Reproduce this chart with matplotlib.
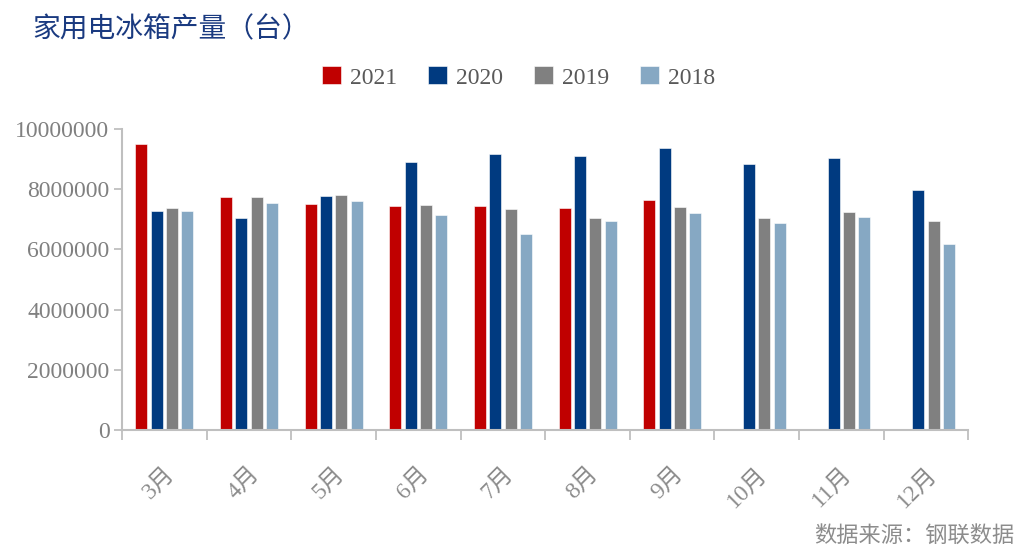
import numpy as np
import matplotlib.pyplot as plt

plt.rcParams['font.family'] = ['Liberation Serif', 'Noto Sans CJK SC', 'DejaVu Sans']

# 数据（台）
months = ['3月', '4月', '5月', '6月', '7月', '8月', '9月', '10月', '11月', '12月']
y2021 = [9490000, 7750000, 7500000, 7430000, 7430000, 7370000, 7640000, np.nan, np.nan, np.nan]
y2020 = [7290000, 7030000, 7770000, 8890000, 9170000, 9090000, 9370000, 8830000, 9030000, 7980000]
y2019 = [7360000, 7730000, 7800000, 7480000, 7340000, 7030000, 7400000, 7040000, 7240000, 6930000]
y2018 = [7260000, 7530000, 7590000, 7130000, 6510000, 6940000, 7220000, 6860000, 7090000, 6190000]

series = [('2021', y2021, '#C00000'), ('2020', y2020, '#003A80'),
          ('2019', y2019, '#808080'), ('2018', y2018, '#86A8C3')]

fig = plt.figure(figsize=(10.21, 5.53), dpi=100)
ax = fig.add_axes([0.1195, 0.222, 0.829, 0.545])

x = np.arange(len(months))
pitch = 0.181
width = 0.142
for i, (name, vals, col) in enumerate(series):
    ax.bar(x + (i - 1.5) * pitch, vals, width, color=col, label=name,
           edgecolor='white', linewidth=0.4)

ax.set_xlim(-0.5, len(months) - 0.5)
ax.set_ylim(0, 10000000)
ax.set_yticks(np.arange(0, 10000001, 2000000))
ax.set_yticklabels([str(v) for v in range(0, 10000001, 2000000)])

ax.set_xticks(np.arange(-0.5, len(months)), minor=False)
ax.set_xticklabels([])
ax.set_xticks(x, minor=True)
ax.set_xticklabels(months, minor=True, rotation=45, ha='right', va='top',
                   rotation_mode='anchor', fontsize=17, color='#8C8C8C',
                   family=['Liberation Serif', 'Noto Sans CJK SC'])
ax.tick_params(axis='x', which='minor', length=0, pad=24)
ax.tick_params(axis='x', which='major', length=7, width=1.3, color='#BFBFBF', direction='out')
ax.tick_params(axis='y', length=6, width=1.3, color='#BFBFBF', labelsize=17,
               labelcolor='#808080', pad=3)

for s in ['top', 'right']:
    ax.spines[s].set_visible(False)
for s in ['left', 'bottom']:
    ax.spines[s].set_color('#BFBFBF')
    ax.spines[s].set_linewidth(1.5)

leg = fig.legend(loc='center', bbox_to_anchor=(0.508, 0.86), ncol=4, frameon=False,
                 fontsize=17, handlelength=0.8, handleheight=0.8, columnspacing=1.3,
                 handletextpad=0.4)
for t in leg.get_texts():
    t.set_color('#595959')

fig.text(0.032, 0.947, '家用电冰箱产量（台）', fontsize=20, color='#1A3A80',
         family=['Noto Sans CJK SC'], va='center', ha='left')
fig.text(0.994, 0.012, '数据来源：钢联数据', fontsize=16, color='#8C8C8C',
         family=['Noto Sans CJK SC'], va='bottom', ha='right')

fig.savefig('out.png', dpi=100)
